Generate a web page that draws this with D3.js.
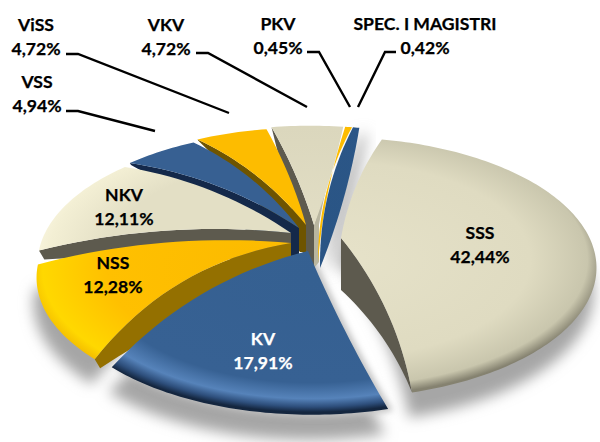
<!DOCTYPE html>
<html><head><meta charset="utf-8">
<script src="https://cdn.jsdelivr.net/npm/d3@7/dist/d3.min.js"></script>
<style>html,body{margin:0;padding:0;background:#fff}svg{display:block}text{font-family:Lato,"Open Sans",sans-serif;font-weight:700;font-size:17.6px;text-anchor:middle;stroke-width:.25px}</style>
</head><body><svg id="c" width="600" height="442"></svg>
<script>
const categories=["SSS","KV","NSS","NKV","VSS","ViSS","VKV","PKV","SPEC. I MAGISTRI"];
const values=[42.44,17.91,12.28,12.11,4.94,4.72,4.72,0.45,0.42];
const valueLabels=["42,44%","17,91%","12,28%","12,11%","4,94%","4,72%","4,72%","0,45%","0,42%"];
const rampNames=["sss","kv","nss","nkv","flatBlue","flatYellow","flatCream","flatYellow","specBlue"];
const wallColors=["#5d5a4e",null,"#947000","#5d5a4e","#14294a","#6e5400","#5d5a4e",null,null];

// layout constants (pull-out of each slice)
const rimCentre=[[335,260],[312,278],[295,270],[296,256],[301,252],[305,249],[310,247],[312,247],[313,247]];
const radius=[261,258,258,258,258,258,258,258,258];
const apex=[[341,238],[308,251],[291,243],[291,233],[299,228],[306,225],[314,225],[318,262],[320,268]];
const bowStart=[6,-3,-22,-11,-10,-8,-3,4,9];
const bowEnd=[11,-17,-11,-10,-8,-3,-2,9,-4];
const wallDepth=[52,0,36,30,29,27,45,0,0];
const wallInset=[0,0,0,0,7,6,7,0,0];
const wallBow=[7,0,-8,-4,-1,-2,0,0,0];
const wallRimDrop=[0,0,9,9,2,1,0,0,0];
const wallOnEnd=[true,false,false,false,false,false,false,false,false];
const labelPos=[[480,239],[263,345],[113,269],[124,201],[37,88],[36,31],[166,31],[278,30],[425,30]];
const leaders=[null,null,null,null,[[66,111],[78,111],[155,131]],[[66,54],[78,54],[229,113]],[[196,53],[208,53],[307,107]],[[307,52],[319,52],[350,107]],[[396,52],[385,52],[358,107]]];

const K=0.5,P=0.06,START=11*Math.PI/180;
const ramps={
 sss:[[0,"#e6e2c9"],[.72,"#dfdbc1"],[.93,"#c9c6ad"],[1,"#858270"]],
 nkv:[[0,"#e3dfc5"],[.7,"#e3dfc5"],[.92,"#f3efd4"],[1,"#fbf7e1"]],
 flatCream:[[0,"#e3dfc6"],[1,"#dad6bc"]],
 kv:[[0,"#356091"],[.78,"#376193"],[.9,"#5683ba"],[.96,"#2e4f7c"],[1,"#14263f"]],
 flatBlue:[[0,"#376092"],[1,"#376092"]],
 specBlue:[[0,"#2a5585"],[1,"#2b5687"]],
 nss:[[0,"#fbb900"],[.7,"#ffc000"],[.94,"#ffd800"],[1,"#f4be00"]],
 flatYellow:[[0,"#fdbc00"],[1,"#fdbc00"]]
};
const svg=d3.select("#c"),defs=svg.append("defs");
defs.append("filter").attr("id","blur").attr("x","-20%").attr("y","-20%").attr("width","140%").attr("height","140%")
 .append("feGaussianBlur").attr("stdDeviation",7);
defs.append("filter").attr("id","blur2").attr("x","-20%").attr("y","-20%").attr("width","140%").attr("height","140%")
 .append("feGaussianBlur").attr("stdDeviation",3);
const pie=d3.pie().sort(null).value(d=>d).startAngle(START).endAngle(START+2*Math.PI);
const arcs=pie(values);
const line=d3.line();
const rimPoint=(i,a)=>{const R=radius[i],X=R*Math.sin(a),Y=-R*Math.cos(a),s=1+P*Y/R;
 return [rimCentre[i][0]+X*s,rimCentre[i][1]+Y*K*s];};
function bowed(p,q,b){
 const dx=q[0]-p[0],dy=q[1]-p[1],l=Math.hypot(dx,dy)||1;
 return d3.range(0,1.001,.05).map(t=>{const o=b*4*t*(1-t);return [p[0]+dx*t+dy/l*o,p[1]+dy*t-dx/l*o];});
}
function slicePts(i,d){
 const A=apex[i],a0=d.startAngle,a1=d.endAngle,n=Math.max(3,Math.ceil((a1-a0)/.02));
 const rim=d3.range(n+1).map(j=>rimPoint(i,a0+(a1-a0)*j/n));
 return [...bowed(A,rim[0],bowStart[i]),...rim,...bowed(rim[n],A,-bowEnd[i])];
}
function wallPts(i,d){
 const A=apex[i],edge=wallOnEnd[i]?d.endAngle:d.startAngle,r=rimPoint(i,edge);
 const b=wallOnEnd[i]?bowEnd[i]:bowStart[i],D=[A[0],A[1]+wallDepth[i]],E=[A[0]-wallInset[i],A[1]+wallDepth[i]];
 const r2=[r[0]+wallRimDrop[i]*.6,r[1]+wallRimDrop[i]];
 return [...bowed(A,r,b),...bowed(r2,wallInset[i]?E:D,-wallBow[i]),D];
}
arcs.forEach((d,i)=>{
 const g=defs.append("radialGradient").attr("id","g"+i).attr("gradientUnits","userSpaceOnUse")
  .attr("cx",0).attr("cy",0).attr("r",radius[i]*1.04)
  .attr("gradientTransform",`translate(${rimCentre[i][0]},${rimCentre[i][1]}) scale(1,${K})`);
 ramps[rampNames[i]].forEach(s=>g.append("stop").attr("offset",s[0]).attr("stop-color",s[1]));
});
// shadow
const sh=svg.append("g").attr("filter","url(#blur)").attr("fill","#a6a6a6").attr("transform","translate(-3,25)");
arcs.forEach((d,i)=>{ if(i<3) sh.append("path").attr("d",line(slicePts(i,d))); });
const sh2=svg.append("g").attr("filter","url(#blur)").attr("fill","#bbb").attr("transform","translate(8,6)");
sh2.append("path").attr("d",line(slicePts(8,arcs[8])));
const sh3=svg.append("g").attr("filter","url(#blur2)").attr("fill","#c4c4c4").attr("transform","translate(5,2)");
sh3.append("path").attr("d",line(slicePts(1,arcs[1])));
// slices, back to front
[6,5,4,3,2,7,8,1,0].forEach(i=>{
 const d=arcs[i],g=svg.append("g");
 if(wallDepth[i]) g.append("path").attr("d",line(wallPts(i,d))+"Z").attr("fill",wallColors[i]);
 if(i==6){const A=apex[6],r=rimPoint(6,d.endAngle);
  g.append("path").attr("d",line([r,A,[A[0],A[1]+43],[A[0]+5,A[1]+37],[A[0]+5,A[1]],...bowed([A[0]+5,A[1]],r,2).slice(1)])+"Z").attr("fill","#b9b6a0");}
 g.append("path").attr("d",line(slicePts(i,d))+"Z").attr("fill",`url(#g${i})`);
});
// leaders
leaders.forEach(l=>{if(l)svg.append("path").attr("d",line(l)).attr("fill","none").attr("stroke","#000").attr("stroke-width",2.4);});
// labels
categories.forEach((c,i)=>{
 const col=i==1?"#fff":"#000";
 [c,valueLabels[i]].forEach((t,j)=>svg.append("text").attr("x",labelPos[i][0]).attr("y",labelPos[i][1]+23.5*j).attr("fill",col).attr("stroke",col).text(t));
});
</script></body></html>
